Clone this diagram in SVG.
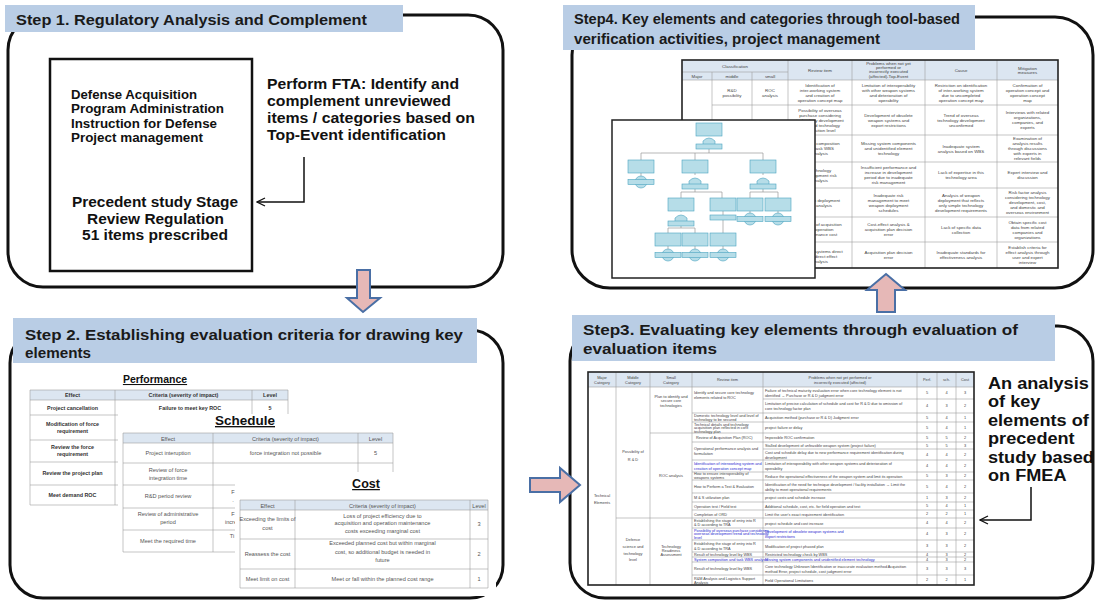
<svg xmlns="http://www.w3.org/2000/svg" width="1097" height="605" viewBox="0 0 1097 605">
<style>
.band{fill:#b9cde5}
.frame{fill:none;stroke:#111;stroke-width:3}
.h{font-family:"Liberation Sans",Arial,sans-serif;font-weight:bold;font-size:15.5px;fill:#1a1a1a}
.b{font-family:"Liberation Sans",Arial,sans-serif;font-weight:bold;fill:#111}
.tb{fill:#fff;stroke:#222;stroke-width:1.5}
.g{stroke:#a0a0a0;stroke-width:.6;fill:none}
.hd{fill:#dce6f1}
.s4{font-family:"Liberation Sans",Arial,sans-serif;font-size:4.4px;fill:#444;text-anchor:middle}
.s3{font-family:"Liberation Sans",Arial,sans-serif;font-size:3.8px;fill:#444}
.s3c{font-family:"Liberation Sans",Arial,sans-serif;font-size:3.9px;fill:#444;text-anchor:middle}
.blue{fill:#2b2bd0}
.t2{font-family:"Liberation Sans",Arial,sans-serif;font-size:5.6px;fill:#555;text-anchor:middle}
.t2b{font-family:"Liberation Sans",Arial,sans-serif;font-size:5.4px;font-weight:bold;fill:#333;text-anchor:middle}
.ttl{font-family:"Liberation Sans",Arial,sans-serif;font-weight:bold;fill:#111;text-anchor:middle;text-decoration:underline}
.tn{fill:#b6dde8;stroke:#4aa3c0;stroke-width:.6}
.tl{stroke:#999;stroke-width:.7;fill:none}
.ba{fill:#e6b8b7;stroke:#4a6fa5;stroke-width:2}
.ln{fill:none;stroke:#111;stroke-width:1.5}
</style>
<defs>
<marker id="oa" viewBox="0 0 10 10" refX="9" refY="5" markerWidth="10" markerHeight="10" markerUnits="userSpaceOnUse" orient="auto"><path d="M1,1 L9,5 L1,9" fill="none" stroke="#111" stroke-width="1.3"/></marker>
<g id="nd"><rect width="26" height="13" class="tn"/></g>
<g id="be"><circle cx="13" cy="5" r="6" class="tn"/><rect y="2.5" width="26" height="5" class="tn"/></g>
<g id="gt"><path d="M7,6 V1 Q13,-5 19,1 V6 Z" class="tn"/><rect y="4" width="26" height="5" class="tn"/></g>
</defs>
<rect width="1097" height="605" fill="#fff"/>

<!-- STEP 1 -->
<g id="step1">
<rect x="8" y="15" width="495" height="272" rx="35" class="frame"/>
<rect x="5" y="5" width="398" height="27" class="band"/>
<text x="16" y="25" class="h" textLength="351" lengthAdjust="spacingAndGlyphs">Step 1. Regulatory Analysis and Complement</text>
</g>
<g id="regulation">
<rect x="50" y="59" width="202" height="212" fill="#fff" stroke="#111" stroke-width="2.5"/>
<text class="b" font-size="12" x="71" y="99" textLength="126" lengthAdjust="spacingAndGlyphs">Defense Acquisition</text>
<text class="b" font-size="12" x="71" y="113" textLength="153" lengthAdjust="spacingAndGlyphs">Program Administration</text>
<text class="b" font-size="12" x="71" y="128" textLength="146" lengthAdjust="spacingAndGlyphs">Instruction for Defense</text>
<text class="b" font-size="12" x="71" y="142" textLength="132" lengthAdjust="spacingAndGlyphs">Project management</text>
<text class="b" font-size="14" x="72" y="207" textLength="166" lengthAdjust="spacingAndGlyphs">Precedent study Stage</text>
<text class="b" font-size="14" x="87" y="224" textLength="137" lengthAdjust="spacingAndGlyphs">Review Regulation</text>
<text class="b" font-size="14" x="82" y="240" textLength="146" lengthAdjust="spacingAndGlyphs">51 items prescribed</text>
</g>
<g id="fta">
<text class="b" font-size="14.5" x="267" y="89" textLength="192" lengthAdjust="spacingAndGlyphs">Perform FTA: Identify and</text>
<text class="b" font-size="14.5" x="267" y="106" textLength="184" lengthAdjust="spacingAndGlyphs">complement unreviewed</text>
<text class="b" font-size="14.5" x="267" y="123" textLength="208" lengthAdjust="spacingAndGlyphs">items / categories based on</text>
<text class="b" font-size="14.5" x="267" y="140" textLength="179" lengthAdjust="spacingAndGlyphs">Top-Event identification</text>
</g>

<!-- STEP 4 -->
<g id="step4">
<rect x="572" y="17" width="521" height="271" rx="38" class="frame"/>
<rect x="563" y="5" width="412" height="45" class="band"/>
<text x="574" y="24" class="h" textLength="386" lengthAdjust="spacingAndGlyphs">Step4.  Key elements and categories through tool-based</text>
<text x="574" y="44" class="h" textLength="306" lengthAdjust="spacingAndGlyphs">verification activities, project management</text>
</g>
<g id="table4">
<rect x="682" y="60" width="376" height="208" fill="#fff"/>
<rect x="682" y="60" width="376" height="20" class="hd"/>
<path class="g" d="M712,72V268M752,72V268M788,60V268M852,60V268M925,60V268M997,60V268M682,72H788M682,80H1058M712,105H1058M788,135H1058M788,162H1058M788,188H1058M788,217H1058M788,242H1058"/>
<rect x="682" y="60" width="376" height="208" fill="none" stroke="#222" stroke-width="1.6"/>
<text class="s4" x="735" y="68">Classification</text>
<text class="s4" y="78"><tspan x="697">Major</tspan><tspan x="732">middle</tspan><tspan x="770">small</tspan></text>
<text class="s4" x="820" y="72" font-size="5">Review item</text>
<text class="s4" y="64.5"><tspan x="888.5">Problems when not yet</tspan><tspan x="888.5" dy="4.4">performed or</tspan><tspan x="888.5" dy="4.4">incorrectly executed</tspan><tspan x="888.5" dy="4.4">(affected)-Top-Event</tspan></text>
<text class="s4" x="961" y="72" font-size="5">Cause</text>
<text class="s4" y="69.5"><tspan x="1027.5">Mitigation</tspan><tspan x="1027.5" dy="4.6">measures</tspan></text>
<!-- row1 -->
<text class="s4" y="91.5"><tspan x="732">R&amp;D</tspan><tspan x="732" dy="5">possibility</tspan></text>
<text class="s4" y="91.5"><tspan x="770">ROC</tspan><tspan x="770" dy="5">analysis</tspan></text>
<text class="s4" y="86.5"><tspan x="820">Identification of</tspan><tspan x="820" dy="5">inter-working system</tspan><tspan x="820" dy="5">and creation of</tspan><tspan x="820" dy="5">operation concept map</tspan></text>
<text class="s4" y="86.5"><tspan x="888.5">Limitation of interoperability</tspan><tspan x="888.5" dy="5">with other weapon systems</tspan><tspan x="888.5" dy="5">and deterioration of</tspan><tspan x="888.5" dy="5">operability</tspan></text>
<text class="s4" y="86.5"><tspan x="961">Restriction on identification</tspan><tspan x="961" dy="5">of inter-working system</tspan><tspan x="961" dy="5">due to uncompleted</tspan><tspan x="961" dy="5">operation concept map</tspan></text>
<text class="s4" y="86.5"><tspan x="1027.5">Confirmation of</tspan><tspan x="1027.5" dy="5">operation concept and</tspan><tspan x="1027.5" dy="5">operation concept</tspan><tspan x="1027.5" dy="5">map</tspan></text>
<!-- row2 -->
<text class="s4" y="111.5"><tspan x="820">Possibility of overseas</tspan><tspan x="820" dy="5">purchase considering</tspan><tspan x="820" dy="5">technology development</tspan><tspan x="820" dy="5">level and technology</tspan><tspan x="820" dy="5">acquisition level</tspan></text>
<text class="s4" y="116.5"><tspan x="888.5">Development of obsolete</tspan><tspan x="888.5" dy="5">weapon systems and</tspan><tspan x="888.5" dy="5">export restrictions</tspan></text>
<text class="s4" y="116.5"><tspan x="961">Trend of overseas</tspan><tspan x="961" dy="5">technology development</tspan><tspan x="961" dy="5">unconfirmed</tspan></text>
<text class="s4" y="114"><tspan x="1027.5">Interviews with related</tspan><tspan x="1027.5" dy="5">organizations,</tspan><tspan x="1027.5" dy="5">companies, and</tspan><tspan x="1027.5" dy="5">experts</tspan></text>
<!-- row3 -->
<text class="s4" y="145"><tspan x="820">System composition</tspan><tspan x="820" dy="5">and task WBS</tspan><tspan x="820" dy="5">analysis</tspan></text>
<text class="s4" y="145"><tspan x="888.5">Missing system components</tspan><tspan x="888.5" dy="5">and unidentified element</tspan><tspan x="888.5" dy="5">technology</tspan></text>
<text class="s4" y="147.5"><tspan x="961">Inadequate system</tspan><tspan x="961" dy="5">analysis based on WBS</tspan></text>
<text class="s4" y="140"><tspan x="1027.5">Examination of</tspan><tspan x="1027.5" dy="5">analysis results</tspan><tspan x="1027.5" dy="5">through discussions</tspan><tspan x="1027.5" dy="5">with experts in</tspan><tspan x="1027.5" dy="5">relevant fields</tspan></text>
<!-- row4 -->
<text class="s4" y="171.5"><tspan x="820">Technology</tspan><tspan x="820" dy="5">development risk</tspan><tspan x="820" dy="5">analysis</tspan></text>
<text class="s4" y="169"><tspan x="888.5">Insufficient performance and</tspan><tspan x="888.5" dy="5">increase in development</tspan><tspan x="888.5" dy="5">period due to inadequate</tspan><tspan x="888.5" dy="5">risk management</tspan></text>
<text class="s4" y="174"><tspan x="961">Lack of expertise in this</tspan><tspan x="961" dy="5">technology area</tspan></text>
<text class="s4" y="174"><tspan x="1027.5">Expert interview and</tspan><tspan x="1027.5" dy="5">discussion</tspan></text>
<!-- row5 -->
<text class="s4" y="201.5"><tspan x="820">Weapon deployment</tspan><tspan x="820" dy="5">risk analysis</tspan></text>
<text class="s4" y="196.5"><tspan x="888.5">Inadequate risk</tspan><tspan x="888.5" dy="5">management to meet</tspan><tspan x="888.5" dy="5">weapon deployment</tspan><tspan x="888.5" dy="5">schedules</tspan></text>
<text class="s4" y="196.5"><tspan x="961">Analysis of weapon</tspan><tspan x="961" dy="5">deployment that reflects</tspan><tspan x="961" dy="5">only simple technology</tspan><tspan x="961" dy="5">development requirements</tspan></text>
<text class="s4" y="194"><tspan x="1027.5">Risk factor analysis</tspan><tspan x="1027.5" dy="5">considering technology</tspan><tspan x="1027.5" dy="5">development, cost,</tspan><tspan x="1027.5" dy="5">and domestic and</tspan><tspan x="1027.5" dy="5">overseas environment</tspan></text>
<!-- row6 -->
<text class="s4" y="226"><tspan x="820">Analysis of acquisition</tspan><tspan x="820" dy="5">and operation</tspan><tspan x="820" dy="5">maintenance cost</tspan></text>
<text class="s4" y="226"><tspan x="888.5">Cost-effect analysis &amp;</tspan><tspan x="888.5" dy="5">acquisition plan decision</tspan><tspan x="888.5" dy="5">error</tspan></text>
<text class="s4" y="228.5"><tspan x="961">Lack of specific data</tspan><tspan x="961" dy="5">collection</tspan></text>
<text class="s4" y="223.5"><tspan x="1027.5">Obtain specific cost</tspan><tspan x="1027.5" dy="5">data from related</tspan><tspan x="1027.5" dy="5">companies and</tspan><tspan x="1027.5" dy="5">organizations</tspan></text>
<!-- row7 -->
<text class="s4" y="252.5"><tspan x="820">Weapon systems direct</tspan><tspan x="820" dy="5">and indirect effect</tspan><tspan x="820" dy="5">analysis</tspan></text>
<text class="s4" y="254"><tspan x="888.5">Acquisition plan decision</tspan><tspan x="888.5" dy="5">error</tspan></text>
<text class="s4" y="254"><tspan x="961">Inadequate standards for</tspan><tspan x="961" dy="5">effectiveness analysis</tspan></text>
<text class="s4" y="249"><tspan x="1027.5">Establish criteria for</tspan><tspan x="1027.5" dy="5">effect analysis through</tspan><tspan x="1027.5" dy="5">user and expert</tspan><tspan x="1027.5" dy="5">interview</tspan></text>
</g>
<g id="fault-tree">
<rect x="612" y="120" width="203" height="158" class="tb"/>
<path class="tl" d="M709,149V153M641,153H763M641,153V160M695,153V160M763,153V160M641,173V177M695,173V175M763,173V175M695,189V192M681,192H722M681,192V198M722,192V198M763,189V192M750,192H778M750,192V198M778,192V198M681,211V212M681,226V228M668,228H695M668,228V233M695,228V233M723,211V215M723,220V233M750,211V214M778,211V214M668,246V250M695,246V250M723,246V250"/>
<use href="#nd" x="696" y="123"/><use href="#gt" x="696" y="140"/>
<use href="#nd" x="628" y="160"/><use href="#be" x="628" y="177"/>
<use href="#nd" x="682" y="160"/><use href="#gt" x="682" y="180"/>
<use href="#nd" x="750" y="160"/><use href="#gt" x="750" y="180"/>
<use href="#nd" x="668" y="198"/><use href="#gt" x="668" y="217"/>
<use href="#nd" x="710" y="198"/><rect x="710" y="215" width="26" height="5" class="tn"/>
<use href="#nd" x="737" y="198"/><use href="#be" x="737" y="214"/>
<use href="#nd" x="765" y="198"/><use href="#be" x="765" y="214"/>
<use href="#nd" x="655" y="233"/><use href="#be" x="655" y="250"/>
<use href="#nd" x="682" y="233"/><use href="#be" x="682" y="250"/>
<use href="#nd" x="710" y="233"/><use href="#be" x="710" y="250"/>
</g>

<!-- STEP 2 -->
<g id="step2">
<rect x="10" y="330" width="493" height="268" rx="33" class="frame"/>
<rect x="13" y="318" width="464" height="45" class="band"/>
<text x="25" y="340" class="h" textLength="438" lengthAdjust="spacingAndGlyphs">Step 2. Establishing evaluation criteria for drawing key</text>
<text x="25" y="358" class="h" textLength="66" lengthAdjust="spacingAndGlyphs">elements</text>
</g>
<g id="performance">
<text class="ttl" x="155" y="383" font-size="10.5">Performance</text>
<rect x="30" y="390" width="258" height="10" class="hd"/>
<path class="g" d="M30,390H288V505H30ZM115,390V505M252,390V505M30,400H288M30,415H288M30,440H288M30,462H288M30,485H288"/>
<text class="t2b" y="397"><tspan x="72.5">Effect</tspan><tspan x="183.5">Criteria (severity of impact)</tspan><tspan x="270">Level</tspan></text>
<text class="t2b" y="409.5"><tspan x="72.5">Project cancellation</tspan><tspan x="190">Failure to meet key ROC</tspan><tspan x="270">5</tspan></text>
<text class="t2b" y="425.5"><tspan x="72.5">Modification of force</tspan><tspan x="72.5" dy="7">requirement</tspan></text>
<text class="t2b" y="449"><tspan x="72.5">Review the force</tspan><tspan x="72.5" dy="7">requirement</tspan></text>
<text class="t2b" x="72.5" y="475">Review the project plan</text>
<text class="t2b" x="72.5" y="497">Meet demand ROC</text>
</g>
<g id="schedule">
<rect x="118" y="414" width="284" height="146" fill="#fff"/>
<text class="ttl" x="245" y="425" font-size="13.5">Schedule</text>
<rect x="123" y="433" width="270" height="10" class="hd"/>
<path class="g" d="M123,433H393V552H123ZM213,433V552M358,433V552M123,443H393M123,463H393M123,485H393M123,508H393M123,530H393"/>
<text class="t2" y="440.5"><tspan x="168">Effect</tspan><tspan x="285.5">Criteria (severity of impact)</tspan><tspan x="375.5">Level</tspan></text>
<text class="t2" y="455"><tspan x="168">Project interuption</tspan><tspan x="285.5">force integration not possible</tspan><tspan x="375.5">5</tspan></text>
<text class="t2" y="472"><tspan x="168">Review of force</tspan><tspan x="168" dy="8">integration time</tspan></text>
<text class="t2" y="477"><tspan x="285.5">delay of force integration</tspan><tspan x="375.5">4</tspan></text>
<text class="t2" x="168" y="498">R&amp;D period review</text>
<text class="t2" x="233" y="494">F</text>
<text class="t2" x="233" y="502">.</text>
<text class="t2" y="516"><tspan x="168">Review of administrative</tspan><tspan x="168" dy="8">period</tspan></text>
<text class="t2" x="233" y="516">F</text>
<text class="t2" x="231" y="524">incre</text>
<text class="t2" x="168" y="543">Meet the required time</text>
<text class="t2" x="232" y="538">Ti</text>
</g>
<g id="cost">
<rect x="235" y="472" width="261" height="124" fill="#fff"/>
<text class="ttl" x="366" y="488" font-size="12.5">Cost</text>
<rect x="240" y="500" width="248" height="10" class="hd"/>
<path class="g" d="M240,500H488V588H240ZM295,500V588M470,500V588M240,510H488M240,539H488M240,569H488"/>
<text class="t2" y="507.5"><tspan x="267.5">Effect</tspan><tspan x="382.5">Criteria (severity of impact)</tspan><tspan x="479">Level</tspan></text>
<text class="t2" y="520.5"><tspan x="267.5">Exceeding the limits of</tspan><tspan x="267.5" dy="9">cost</tspan></text>
<text class="t2" y="517.5"><tspan x="382.5">Loss of project efficiency due to</tspan><tspan x="382.5" dy="7.5">acquisition and operation maintenance</tspan><tspan x="382.5" dy="7.5">costs exceeding marginal cost</tspan></text>
<text class="t2" x="479" y="526">3</text>
<text class="t2" x="267.5" y="556">Reassess the cost</text>
<text class="t2" y="545"><tspan x="382.5">Exceeded planned cost but within marginal</tspan><tspan x="382.5" dy="8.5">cost, so additional budget is needed in</tspan><tspan x="382.5" dy="8.5">future</tspan></text>
<text class="t2" x="479" y="556">2</text>
<text class="t2" y="580.5"><tspan x="267.5">Meet limit on cost</tspan><tspan x="382.5">Meet or fall within the planned cost range</tspan><tspan x="479">1</tspan></text>
</g>

<!-- STEP 3 -->
<g id="step3">
<rect x="570" y="326" width="523" height="272" rx="35" class="frame"/>
<rect x="572" y="315" width="483" height="46" class="band"/>
<text x="583" y="335" class="h" textLength="435" lengthAdjust="spacingAndGlyphs">Step3. Evaluating key elements through evaluation of</text>
<text x="583" y="354" class="h" textLength="134" lengthAdjust="spacingAndGlyphs">evaluation items</text>
</g>
<g id="fmea-table">
<rect x="588" y="372" width="386" height="213" fill="#fff"/>
<rect x="588" y="372" width="386" height="15" class="hd"/>
<path class="g" d="M616,372V585M650,372V585M692,372V585M763,372V585M917,372V585M937,372V585M956,372V585M588,387H974M763,399H974M692,413H974M692,422H974M692,433H974M650,433H692M692,442H974M763,449H974M692,460H974M692,472H974M692,480H974M692,493H974M692,502H974M692,510H974M616,518H974M692,528H974M692,540H974M692,552H974M692,557H974M692,562H974M692,575H974"/>
<rect x="588" y="372" width="386" height="213" fill="none" stroke="#222" stroke-width="1.6"/>
<text class="s3c" y="378.5" font-size="4.3"><tspan x="602">Major</tspan><tspan x="633">Middle</tspan><tspan x="671">Small</tspan></text>
<text class="s3c" y="383.5" font-size="4.3"><tspan x="602">Category</tspan><tspan x="633">Category</tspan><tspan x="671">Category</tspan></text>
<text class="s3c" x="727.5" y="381" font-size="4.3">Review item</text>
<text class="s3c" y="378.5" font-size="4.3"><tspan x="840">Problems when not yet performed or</tspan><tspan x="840" dy="5">incorrectly executed (affected)</tspan></text>
<text class="s3c" y="381" font-size="4.3"><tspan x="927">Perf.</tspan><tspan x="946.5">sch.</tspan><tspan x="965">Cost</tspan></text>
<text class="s3c" y="497"><tspan x="602">Technical</tspan><tspan x="602" dy="6.5">Elements</tspan></text>
<text class="s3c" y="453"><tspan x="633">Possibility of</tspan><tspan x="633" dy="8">R &amp; D</tspan></text>
<text class="s3c" y="541"><tspan x="633">Defence</tspan><tspan x="633" dy="6.8">science and</tspan><tspan x="633" dy="6.8">technology</tspan><tspan x="633" dy="6.8">level</tspan></text>
<text class="s3c" y="398"><tspan x="671">Plan to identify and</tspan><tspan x="671" dy="4.3">secure core</tspan><tspan x="671" dy="4.3">technologies</tspan></text>
<text class="s3c" x="671" y="477">ROC analysis</text>
<text class="s3c" y="547.5"><tspan x="671">Technology</tspan><tspan x="671" dy="4.3">Readiness</tspan><tspan x="671" dy="4.3">Assessment</tspan></text>
<!-- review items -->
<text class="s3" y="394"><tspan x="694">Identify and secure core technology</tspan><tspan x="694" dy="4.5">elements related to ROC</tspan></text>
<text class="s3" y="417"><tspan x="694">Domestic technology level and level of</tspan><tspan x="694" dy="4">technology to be secured</tspan></text>
<text class="s3" y="425.5" font-size="3.6"><tspan x="694">Technical details and technology</tspan><tspan x="694" dy="3.5">acquisition plan reflected in core</tspan><tspan x="694" dy="3.5">technology plan</tspan></text>
<text class="s3" x="696" y="439">Review of Acquisition Plan (ROC)</text>
<text class="s3" y="450"><tspan x="694">Operational performance analysis and</tspan><tspan x="694" dy="5">formulation</tspan></text>
<text class="s3 blue" y="465"><tspan x="694">Identification of interworking system and</tspan><tspan x="694" dy="4.6">creation of operation concept map</tspan></text>
<text class="s3" y="475.3"><tspan x="694">How to ensure interoperability of</tspan><tspan x="694" dy="4">weapons systems</tspan></text>
<text class="s3" x="694" y="488">How to Perform a Test &amp; Evaluation</text>
<text class="s3" x="694" y="499">M &amp; S utilization plan</text>
<text class="s3" x="694" y="507.5">Operation test / Field test</text>
<text class="s3" x="694" y="515.5">Completion of ORD</text>
<text class="s3" y="522"><tspan x="694">Establishing the stage of entry into R</tspan><tspan x="694" dy="4.3">&amp; D according to TRA</tspan></text>
<text class="s3 blue" y="531.5" font-size="3.6"><tspan x="694">Possibility of overseas purchase considering</tspan><tspan x="694" dy="3.6">overseas development trend and technology</tspan><tspan x="694" dy="3.6">level</tspan></text>
<text class="s3" y="545"><tspan x="694">Establishing the stage of entry into R</tspan><tspan x="694" dy="4.5">&amp; D according to TRA</tspan></text>
<text class="s3" x="694" y="556" font-size="3.6">Result of technology level by WBS</text>
<text class="s3 blue" x="694" y="561" font-size="3.6">System composition and task WBS analysis</text>
<text class="s3" x="694" y="570">Result of technology level by WBS</text>
<text class="s3" y="579.5"><tspan x="694">R&amp;M Analysis and Logistics Support</tspan><tspan x="694" dy="4">Analysis</tspan></text>
<!-- problems -->
<text class="s3" y="392"><tspan x="765">Failure of technical maturity evaluation error when core technology element is not</tspan><tspan x="765" dy="5">identified → Purchase or R &amp; D judgment error</tspan></text>
<text class="s3" y="404.5"><tspan x="765">Limitation of precise calculation of schedule and cost for R &amp; D due to omission of</tspan><tspan x="765" dy="5.5">core technology factor plan</tspan></text>
<text class="s3" x="765" y="419">Acquisition method (purchase or R &amp; D) Judgment error</text>
<text class="s3" x="765" y="429">project failure or delay</text>
<text class="s3" x="765" y="439">Impossible ROC confirmation</text>
<text class="s3" x="765" y="447">Stalled development of unfeasible weapon system (project failure)</text>
<text class="s3" y="453.5"><tspan x="765">Cost and schedule delay due to new performance requirement identification during</tspan><tspan x="765" dy="5">development</tspan></text>
<text class="s3" y="465"><tspan x="765">Limitation of interoperability with other weapon systems and deterioration of</tspan><tspan x="765" dy="5">operability</tspan></text>
<text class="s3" x="765" y="477.5">Reduce the operational effectiveness of the weapon system and limit its operation</text>
<text class="s3" y="485.5"><tspan x="765">Identification of the need for technique development / facility installation → Limit the</tspan><tspan x="765" dy="5.5">ability to meet operational requirements</tspan></text>
<text class="s3" x="765" y="499">project costs and schedule increase</text>
<text class="s3" x="765" y="507.5">Additional schedule, cost, etc. for field operation and test</text>
<text class="s3" x="765" y="515.5">Limit the user's exact requirement identification</text>
<text class="s3" x="765" y="524.5">project schedule and cost increase</text>
<text class="s3 blue" y="533"><tspan x="765">Development of obsolete weapon systems and</tspan><tspan x="765" dy="5">export restrictions</tspan></text>
<text class="s3" x="765" y="547.5">Modification of project phased plan</text>
<text class="s3" x="765" y="556" font-size="3.6">Restricted technology check by WBS</text>
<text class="s3 blue" x="765" y="561" font-size="3.6">Missing system components and unidentified element technology</text>
<text class="s3" y="567.5"><tspan x="765">Core technology Unknown Identification or inaccurate evaluation method Acquisition</tspan><tspan x="765" dy="5.5">method Error, project schedule, cost judgment error</tspan></text>
<text class="s3" x="765" y="581.5">Field Operational Limitations</text>
<!-- levels -->
<g class="s3c">
<text y="394.4"><tspan x="927">5</tspan><tspan x="946.5">4</tspan><tspan x="965">3</tspan></text>
<text y="407.4"><tspan x="927">4</tspan><tspan x="946.5">3</tspan><tspan x="965">2</tspan></text>
<text y="418.9"><tspan x="927">5</tspan><tspan x="946.5">4</tspan><tspan x="965">1</tspan></text>
<text y="428.9"><tspan x="927">5</tspan><tspan x="946.5">4</tspan><tspan x="965">1</tspan></text>
<text y="438.9"><tspan x="927">5</tspan><tspan x="946.5">5</tspan><tspan x="965">2</tspan></text>
<text y="446.9"><tspan x="927">5</tspan><tspan x="946.5">5</tspan><tspan x="965">3</tspan></text>
<text y="455.9"><tspan x="927">4</tspan><tspan x="946.5">4</tspan><tspan x="965">2</tspan></text>
<text y="467.4"><tspan x="927">4</tspan><tspan x="946.5">4</tspan><tspan x="965">2</tspan></text>
<text y="477.4"><tspan x="927">5</tspan><tspan x="946.5">3</tspan><tspan x="965">2</tspan></text>
<text y="487.9"><tspan x="927">5</tspan><tspan x="946.5">4</tspan><tspan x="965">2</tspan></text>
<text y="498.9"><tspan x="927">1</tspan><tspan x="946.5">3</tspan><tspan x="965">2</tspan></text>
<text y="507.4"><tspan x="927">5</tspan><tspan x="946.5">4</tspan><tspan x="965">1</tspan></text>
<text y="515.4"><tspan x="927">2</tspan><tspan x="946.5">2</tspan><tspan x="965">1</tspan></text>
<text y="524.4"><tspan x="927">4</tspan><tspan x="946.5">4</tspan><tspan x="965">2</tspan></text>
<text y="535.4"><tspan x="927">4</tspan><tspan x="946.5">3</tspan><tspan x="965">2</tspan></text>
<text y="547.4"><tspan x="927">3</tspan><tspan x="946.5">3</tspan><tspan x="965">2</tspan></text>
<text y="555.9"><tspan x="927">4</tspan><tspan x="946.5">3</tspan><tspan x="965">2</tspan></text>
<text y="560.9"><tspan x="927">4</tspan><tspan x="946.5">3</tspan><tspan x="965">2</tspan></text>
<text y="569.9"><tspan x="927">3</tspan><tspan x="946.5">3</tspan><tspan x="965">3</tspan></text>
<text y="581.4"><tspan x="927">2</tspan><tspan x="946.5">2</tspan><tspan x="965">1</tspan></text>
</g>
</g>
<g id="fmea-note" transform="translate(988,0) scale(1.1,1)">
<text class="b" font-size="16.5" x="0" y="389">An analysis</text>
<text class="b" font-size="16.5" x="0" y="407.5">of key</text>
<text class="b" font-size="16.5" x="0" y="426">elements of</text>
<text class="b" font-size="16.5" x="0" y="444.5">precedent</text>
<text class="b" font-size="16.5" x="0" y="463">study based</text>
<text class="b" font-size="16.5" x="0" y="481.5">on FMEA</text>
</g>

<!-- CONNECTORS -->
<g id="connectors">
<path class="ln" d="M304,157V202H257" marker-end="url(#oa)"/>
<path class="ln" d="M1031,487V520H980" marker-end="url(#oa)"/>
<path class="ba" d="M357,270H370V298H380L363,312L347,298H357Z"/>
<path class="ba" d="M530,478H560V468L580,485L560,502V492H530Z"/>
<path class="ba" d="M886,274L905,290H895V312H877V290H867Z"/>
</g>
</svg>
